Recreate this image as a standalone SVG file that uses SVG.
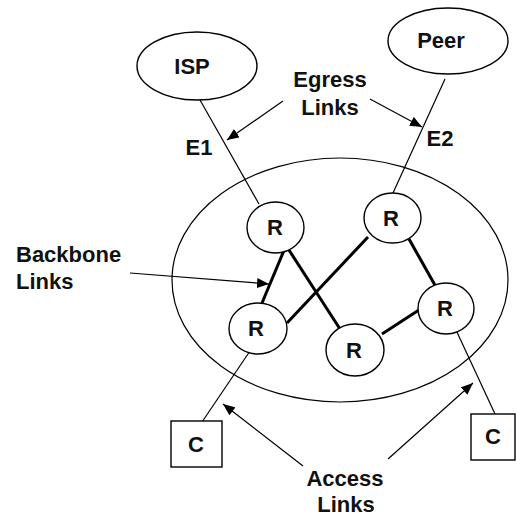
<svg xmlns="http://www.w3.org/2000/svg" width="516" height="518" viewBox="0 0 516 518">
<style>
.thin{stroke:#000;stroke-width:1.2;fill:none}
.thick{stroke:#000;stroke-width:3;fill:none}
.shape{stroke:#000;stroke-width:1.4;fill:#fff}
.lbl{font-family:"Liberation Sans",Arial,sans-serif;font-weight:bold;font-size:22px;fill:#111}
.ctr{text-anchor:middle}
</style>
<defs>
<marker id="ah" viewBox="0 0 12 10" refX="12" refY="5" markerWidth="12" markerHeight="10" markerUnits="userSpaceOnUse" orient="auto">
<path d="M0,0 L12,5 L0,10 Z" fill="#000"/>
</marker>
</defs>
<rect width="516" height="518" fill="#fff"/>
<g id="domain"><ellipse cx="340" cy="280" rx="168" ry="122" class="thin" stroke-width="1.3"/></g>
<g id="connectors">
<line x1="200" y1="100" x2="259" y2="204" class="thin"/>
<line x1="445" y1="79" x2="393" y2="193" class="thin"/>
<line x1="202" y1="422" x2="250" y2="351" class="thin"/>
<line x1="456" y1="330" x2="495" y2="414" class="thin"/>
<line x1="285" y1="248" x2="262" y2="303" class="thick"/>
<line x1="287" y1="247" x2="340" y2="329" class="thick"/>
<line x1="287" y1="323" x2="368" y2="237" class="thick"/>
<line x1="409" y1="239" x2="436" y2="287" class="thick"/>
<line x1="382" y1="334" x2="422" y2="308" class="thick"/>
<line x1="283" y1="101" x2="227" y2="140" class="thin" marker-end="url(#ah)"/>
<line x1="370" y1="99" x2="422" y2="127" class="thin" marker-end="url(#ah)"/>
<line x1="130" y1="273" x2="269" y2="284" class="thin" marker-end="url(#ah)"/>
<line x1="303" y1="466" x2="223" y2="404" class="thin" marker-end="url(#ah)"/>
<line x1="388" y1="459" x2="473" y2="383" class="thin" marker-end="url(#ah)"/>
</g>
<g id="isp"><ellipse cx="197" cy="66" rx="60" ry="34" class="shape"/><text x="192" y="74" class="lbl ctr">ISP</text></g>
<g id="peer"><ellipse cx="448" cy="41" rx="60" ry="33" class="shape"/><text x="441" y="48" class="lbl ctr">Peer</text></g>
<g id="r1"><ellipse cx="275.5" cy="227.5" rx="28.5" ry="25.5" class="shape"/><text x="275" y="235" class="lbl ctr">R</text></g>
<g id="r2"><ellipse cx="392.5" cy="218" rx="28.5" ry="25" class="shape"/><text x="391" y="226" class="lbl ctr">R</text></g>
<g id="r3"><ellipse cx="258" cy="328.5" rx="29" ry="25.5" class="shape"/><text x="256" y="336" class="lbl ctr">R</text></g>
<g id="r4"><ellipse cx="355" cy="350" rx="29" ry="26" class="shape"/><text x="354" y="358" class="lbl ctr">R</text></g>
<g id="r5"><ellipse cx="446" cy="308.5" rx="28" ry="25.5" class="shape"/><text x="445" y="316" class="lbl ctr">R</text></g>
<g id="c1"><rect x="171" y="421" width="51" height="46" class="shape"/><text x="196" y="452" class="lbl ctr">C</text></g>
<g id="c2"><rect x="471" y="414" width="44" height="46" class="shape"/><text x="493" y="444" class="lbl ctr">C</text></g>
<g id="labels">
<text x="330" y="87" class="lbl ctr">Egress</text>
<text x="330" y="115" class="lbl ctr">Links</text>
<text x="199" y="155" class="lbl ctr">E1</text>
<text x="440" y="146" class="lbl ctr">E2</text>
<text x="16" y="262" class="lbl">Backbone</text>
<text x="16" y="289" class="lbl">Links</text>
<text x="345" y="486" class="lbl ctr">Access</text>
<text x="346" y="512" class="lbl ctr">Links</text>
</g>
</svg>
